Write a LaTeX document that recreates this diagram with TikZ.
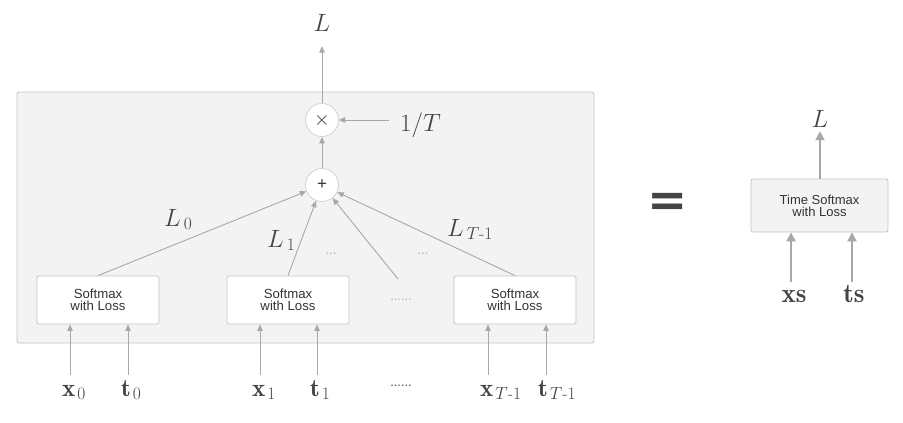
\RequirePackage{fix-cm}
\documentclass[tikz,border=0pt]{standalone}
\usepackage{amsmath}
\usepackage{fontspec}
\setsansfont{Liberation Sans}
\newfontfamily\eqfont{DejaVu Sans}
\usetikzlibrary{arrows.meta}
\definecolor{arr}{HTML}{A8A8A8}
\definecolor{boxfill}{HTML}{F3F3F3}
\definecolor{boxline}{HTML}{C4C4C4}
\definecolor{circline}{HTML}{D2D2D2}
\definecolor{labcol}{HTML}{444444}
\definecolor{txtcol}{HTML}{333333}
\definecolor{dotcol}{HTML}{B0B0B0}
\begin{document}
\begin{tikzpicture}[x=1pt,y=-1pt,
  arrow/.style={draw=arr, line width=0.9pt, -{Triangle[length=6.5pt,width=5.5pt]}, color=arr},
  thickarrow/.style={draw=arr, line width=2pt, -{Triangle[length=9pt,width=9pt]}, color=arr},
  smbox/.style={draw=boxline, fill=white, rounded corners=2pt, line width=0.8pt,
    minimum width=122pt, minimum height=48pt, inner sep=0pt, align=center,
    font=\sffamily\fontsize{13.2}{11.5}\selectfont, text=txtcol},
  opnode/.style={circle, draw=circline, fill=white, line width=0.8pt, minimum size=33pt,
    inner sep=0pt, font=\sffamily\fontsize{17}{17}\selectfont, text=txtcol},
  lab/.style={font=\fontsize{25}{30}\selectfont, text=labcol, inner sep=0pt},
  biglab/.style={font=\fontsize{27}{32}\selectfont, text=labcol, inner sep=0pt},
  dots/.style={font=\sffamily\fontsize{12.8}{12.8}\selectfont, text=dotcol, inner sep=0pt},
]
\useasboundingbox (0,0) rectangle (903,423);

% outer box
\node[draw=boxline, fill=boxfill, rounded corners=2pt, line width=0.8pt,
  minimum width=577pt, minimum height=251pt, inner sep=0pt] (outer) at (305.5,217.5) {};

% softmax boxes
\node[smbox] (sm1) at (98,300) {Softmax\\with Loss};
\node[smbox] (sm2) at (288,300) {Softmax\\with Loss};
\node[smbox] (sm3) at (515,300) {Softmax\\with Loss};

% operators
\node[opnode, font=\fontsize{20}{20}\selectfont] (mul) at (322,120) {$\times$};
\node[opnode] (add) at (322,185) {+};

% labels
\node[lab, anchor=base] (Ltop) at (322,31) {$L$};
\node[lab, anchor=base west] (oneT) at (400,131) {$1/T$};
\node[lab, anchor=base west] (L0) at (164,226) {$L_{\,0}$};
\node[lab, anchor=base west] (L1) at (267,247) {$L_{\,1}$};
\node[lab, anchor=base west] (LT) at (447,236) {$L_{\,T\text{-}1}$};

\node[lab, anchor=base west] (x0) at (62,396) {$\mathbf{x}_{\mkern2mu 0}$};
\node[lab, anchor=base west] (t0) at (121,396) {$\mathbf{t}_{\mkern2mu 0}$};
\node[lab, anchor=base west] (x1) at (252,396) {$\mathbf{x}_{\mkern2mu 1}$};
\node[lab, anchor=base west] (t1) at (310,396) {$\mathbf{t}_{\mkern2mu 1}$};
\node[lab, anchor=base west] (xT) at (480,396) {$\mathbf{x}_{\mkern2mu T\text{-}1}$};
\node[lab, anchor=base west] (tT) at (538,396) {$\mathbf{t}_{\mkern2mu T\text{-}1}$};

% dots
\node[dots] (d1) at (401,300) {......};
\node[dots, text=labcol] (d2) at (401,386) {......};
\node[dots] (s1) at (331,254) {...};
\node[dots] (s2) at (423,254) {...};

% input arrows
\coordinate (x0s) at (70,375);
\coordinate (t0s) at (128,375);
\coordinate (x1s) at (260,375);
\coordinate (t1s) at (317,375);
\coordinate (xTs) at (488,375);
\coordinate (tTs) at (546,375);
\draw[arrow] (x0s) -- (x0s |- sm1.south);
\draw[arrow] (t0s) -- (t0s |- sm1.south);
\draw[arrow] (x1s) -- (x1s |- sm2.south);
\draw[arrow] (t1s) -- (t1s |- sm2.south);
\draw[arrow] (xTs) -- (xTs |- sm3.south);
\draw[arrow] (tTs) -- (tTs |- sm3.south);

% to plus
\coordinate (mid) at (398,279);
\draw[arrow] (sm1.north) -- (add);
\draw[arrow] (sm2.north) -- (add);
\draw[arrow] (mid) -- (add);
\draw[arrow] (sm3.north) -- (add);

% plus to times, times to L
\draw[arrow] (add) -- (mul);
\draw[arrow, shorten >=15pt] (mul.north) -- (Ltop.south);
\draw[arrow, shorten <=11pt] (oneT.west |- mul) -- (mul);

% equals sign
\node[font=\eqfont\bfseries\fontsize{48}{48}\selectfont, text=labcol, inner sep=0pt] (eq) at (668,205) {=};

% right side
\node[draw=boxline, fill=boxfill, rounded corners=2pt, line width=0.8pt,
  minimum width=137pt, minimum height=53pt, inner sep=0pt, align=center,
  font=\sffamily\fontsize{13}{12}\selectfont, text=txtcol] (tsm) at (819.5,205.5) {Time Softmax\\with Loss};
\node[lab, anchor=base] (Lr) at (820,127) {$L$};
\node[biglab, anchor=base] (xs) at (794,302) {$\mathbf{xs}$};
\node[biglab, anchor=base] (ts) at (854,302) {$\mathbf{ts}$};
\coordinate (xss) at (791,282);
\coordinate (tss) at (852,282);
\draw[thickarrow, shorten >=4pt] (tsm.north -| Lr) -- (Lr.south);
\draw[thickarrow] (xss) -- (xss |- tsm.south);
\draw[thickarrow] (tss) -- (tss |- tsm.south);
\end{tikzpicture}
\end{document}
